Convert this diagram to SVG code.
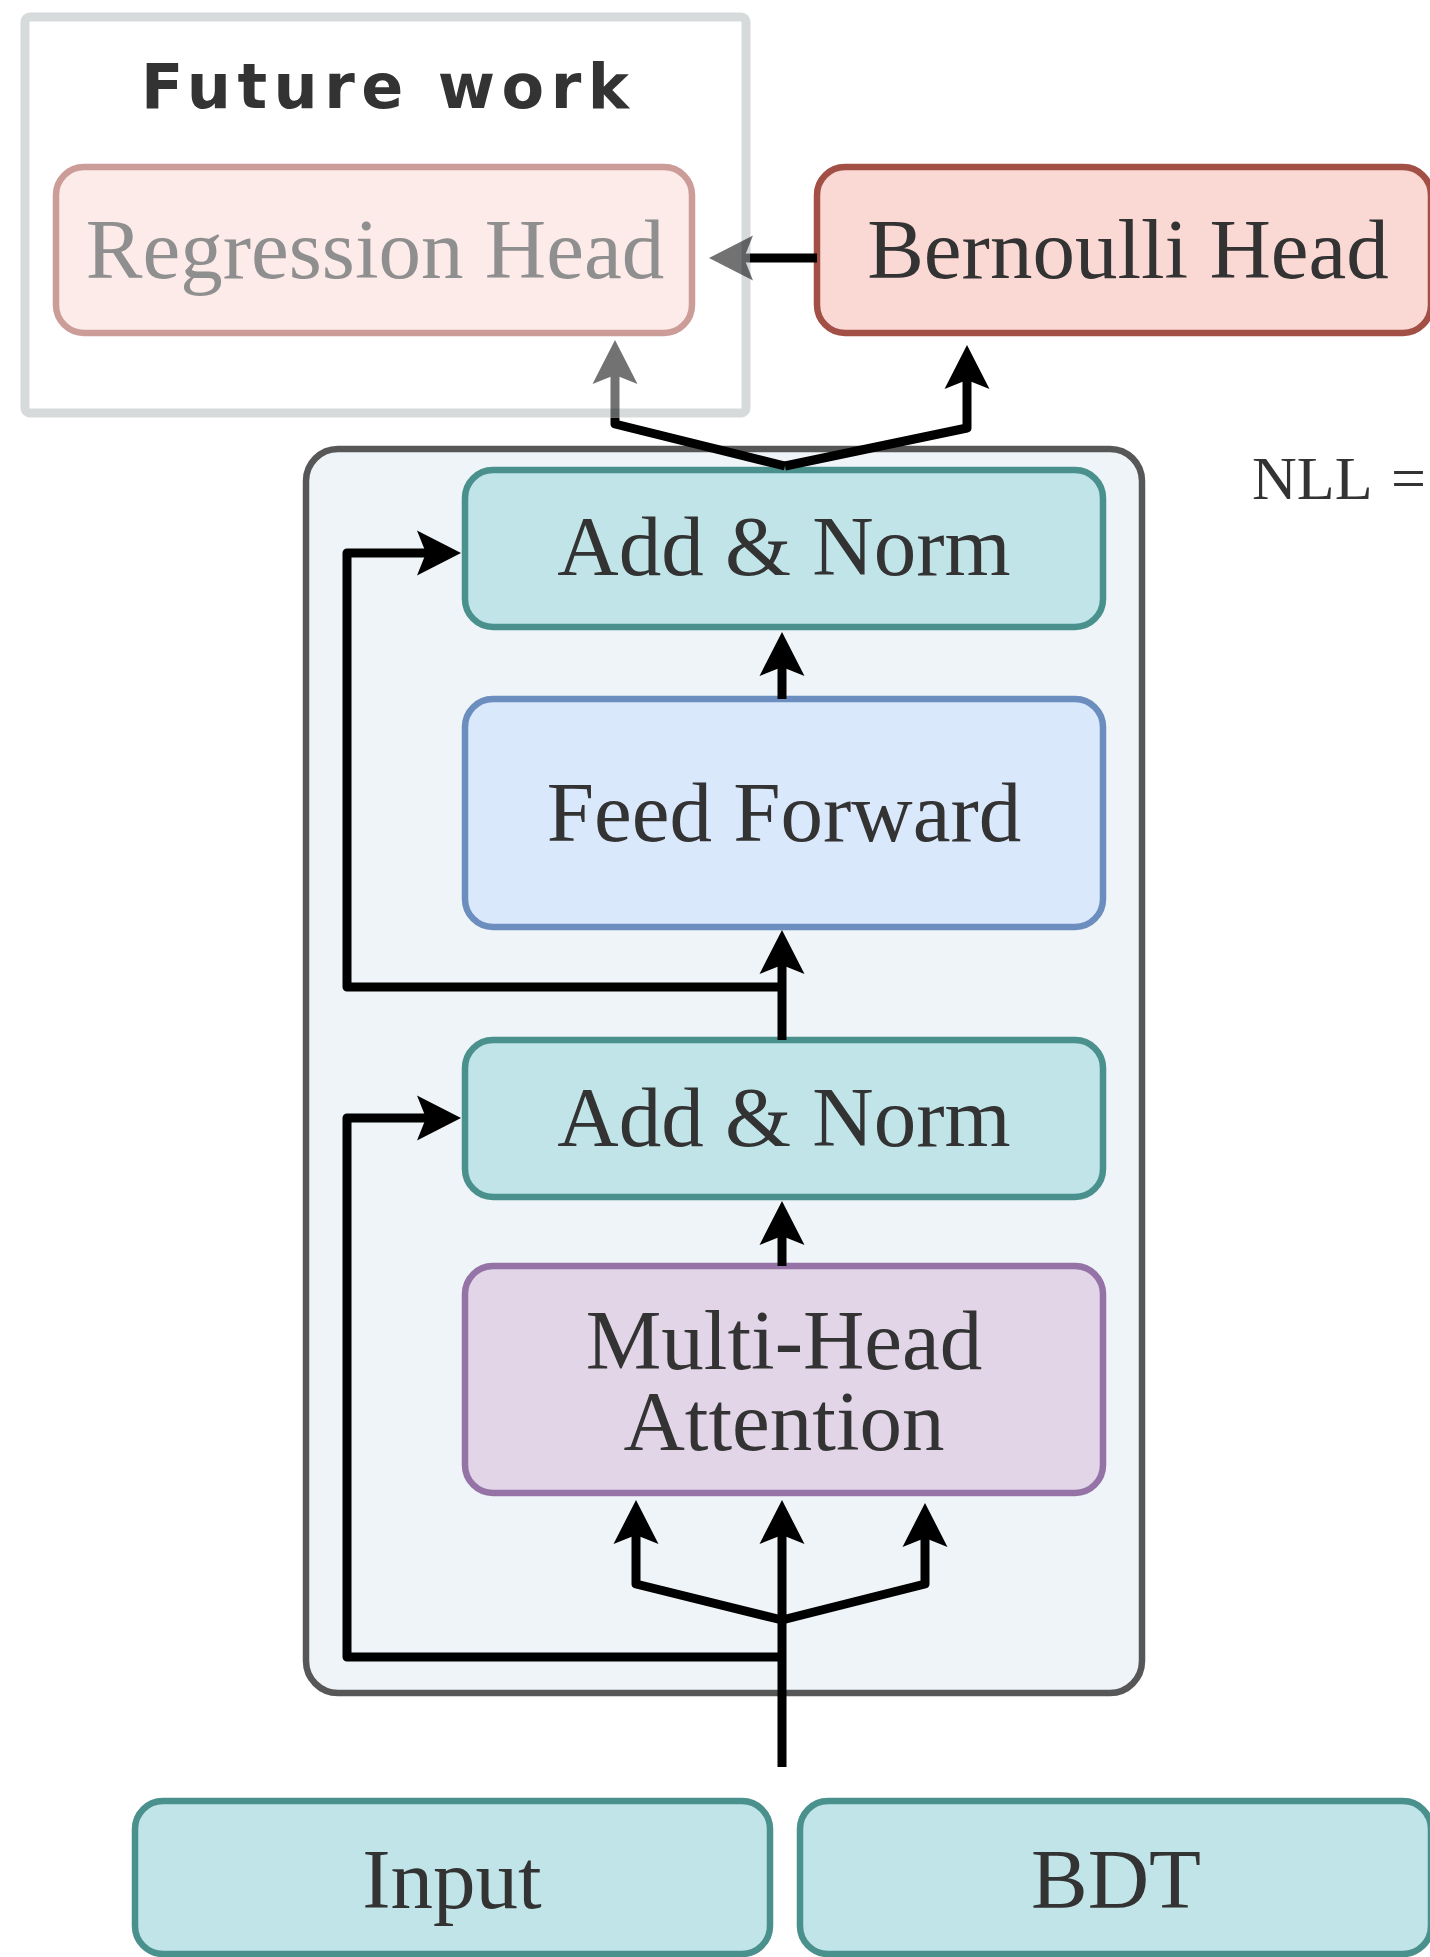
<svg xmlns="http://www.w3.org/2000/svg" width="1430" height="1957" viewBox="0 0 1430 1957">
<style>
.lbl{font-family:"Liberation Serif","Times New Roman",serif;font-size:85px;fill:#333333;text-anchor:middle}
.box{stroke-width:6.5}
.teal{fill:#c0e4e8;stroke:#4a918e}
.conn{fill:none;stroke:#000;stroke-width:9;stroke-linejoin:round}
</style>
<defs>
<marker id="ah" markerUnits="userSpaceOnUse" viewBox="-15 -23 46 46" markerWidth="46" markerHeight="46" refX="0" refY="0" orient="auto">
<path d="M30,0 L-14,-22.5 L-5,0 L-14,22.5 Z" fill="#000"/>
</marker>
</defs>
<rect width="1430" height="1957" fill="#ffffff"/>

<g id="encoder">
<rect x="306" y="449" width="836" height="1244" rx="32" fill="#eef4f7" stroke="#575757" stroke-width="6.5"/>
</g>

<g id="regression-head">
<rect class="box" x="56" y="167" width="636" height="166" rx="28" fill="#fcebe9" stroke="#cc9d98"/>
<text class="lbl" x="375" y="278" style="fill:#8f8f8f">Regression Head</text>
</g>

<g id="bernoulli-head">
<rect class="box" x="817" y="167" width="614" height="166" rx="28" fill="#fad9d5" stroke="#a24f45"/>
<text class="lbl" x="1128" y="278">Bernoulli Head</text>
</g>

<g id="add-norm-1">
<rect class="box teal" x="465" y="470" width="638" height="157" rx="28"/>
<text class="lbl" x="784" y="575">Add &amp; Norm</text>
</g>

<g id="feed-forward">
<rect class="box" x="465" y="699" width="638" height="228" rx="28" fill="#dae8fc" stroke="#6c8ebf"/>
<text class="lbl" x="784" y="841">Feed Forward</text>
</g>

<g id="add-norm-2">
<rect class="box teal" x="465" y="1040" width="638" height="157" rx="28"/>
<text class="lbl" x="784" y="1146">Add &amp; Norm</text>
</g>

<g id="multi-head-attention">
<rect class="box" x="465" y="1266" width="638" height="227" rx="28" fill="#e1d5e7" stroke="#9673a6"/>
<text class="lbl" x="784" y="1369">Multi-Head</text>
<text class="lbl" x="784" y="1450">Attention</text>
</g>

<g id="input">
<rect class="box teal" x="135" y="1801" width="635" height="153" rx="28"/>
<text class="lbl" x="452" y="1908">Input</text>
</g>

<g id="bdt">
<rect class="box teal" x="800" y="1801" width="631" height="153" rx="28"/>
<text class="lbl" x="1116" y="1908">BDT</text>
</g>

<g id="future-work">
<rect x="25" y="17" width="721" height="396" rx="5" fill="none" stroke="#d6dadb" stroke-width="9"/>
<text x="385" y="108" text-anchor="middle" textLength="488" lengthAdjust="spacing" style="font-family:'DejaVu Sans',sans-serif;font-size:62px;font-weight:bold;fill:#333333">Future work</text>
</g>

<g id="nll">
<text x="1252" y="499" style="font-family:'Liberation Serif','Times New Roman',serif;font-size:62px;fill:#333333">NLL <tspan x="1391">=</tspan></text>
</g>

<g id="connectors">
<path class="conn" d="M817,258 L750,258"/>
<g opacity="0.55"><path class="conn" d="M750,258 L739,258" marker-end="url(#ah)"/></g>
<path class="conn" d="M785,466 L615,424 L615,418"/>
<g opacity="0.55"><path class="conn" d="M615,418 L615,370" marker-end="url(#ah)"/></g>
<path class="conn" d="M785,466 L967,428 L967,375" marker-end="url(#ah)"/>
<path class="conn" d="M782,699 L782,662" marker-end="url(#ah)"/>
<path class="conn" d="M782,987 L347,987 L347,553 L431,553" marker-end="url(#ah)"/>
<path class="conn" d="M782,1040 L782,960" marker-end="url(#ah)"/>
<path class="conn" d="M782,1266 L782,1231" marker-end="url(#ah)"/>
<path class="conn" d="M782,1657 L347,1657 L347,1118 L431,1118" marker-end="url(#ah)"/>
<path class="conn" d="M782,1767 L782,1530" marker-end="url(#ah)"/>
<path class="conn" d="M782,1620 L636,1584 L636,1530" marker-end="url(#ah)"/>
<path class="conn" d="M782,1620 L925,1584 L925,1533" marker-end="url(#ah)"/>
</g>
</svg>
